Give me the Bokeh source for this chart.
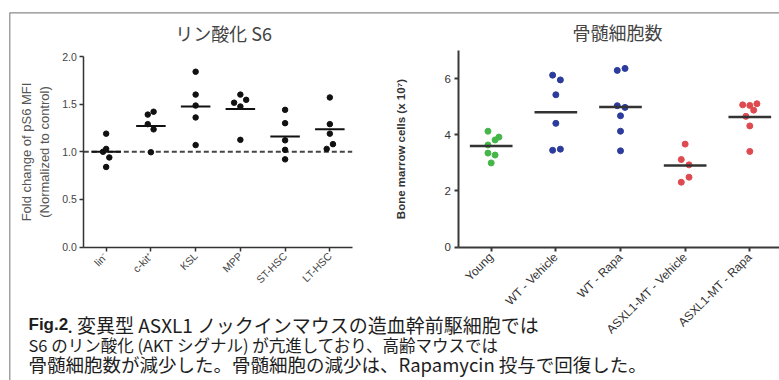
from math import pi
from bokeh.plotting import figure
from bokeh.models import Range1d, LinearAxis, FixedTicker, Label, NumeralTickFormatter
from bokeh.embed import file_html
from bokeh.resources import INLINE

# ---------------- data ----------------
s6_groups = ["lin⁻", "c-kit⁺", "KSL", "MPP", "ST-HSC", "LT-HSC"]
s6_values = [
    [1.19, 1.03, 1.00, 0.94, 0.84],
    [1.39, 1.42, 1.29, 1.235, 0.995],
    [1.84, 1.60, 1.485, 1.36, 1.07],
    [1.60, 1.515, 1.545, 1.475, 1.125],
    [1.44, 1.30, 1.12, 1.02, 0.92],
    [1.57, 1.29, 1.19, 1.08, 1.03],
]
s6_jitter = [
    [0, 0, -0.07, 0.07, 0],
    [-0.07, 0.06, -0.07, 0.06, 0],
    [0, 0, 0, 0, 0],
    [0, -0.14, 0.13, 0, 0],
    [0, 0, 0, 0, 0],
    [0, 0, 0, 0.07, -0.07],
]
s6_means = [1.00, 1.27, 1.475, 1.45, 1.16, 1.235]
s6_control = 1.0
s6_yticks = [0.0, 0.5, 1.0, 1.5, 2.0]

bm_groups = ["Young", "WT - Vehicle", "WT - Rapa", "ASXL1-MT - Vehicle", "ASXL1-MT - Rapa"]
bm_values = [
    [4.13, 3.92, 3.82, 3.64, 3.35, 3.28, 3.00],
    [6.13, 5.96, 5.43, 4.41, 3.45, 3.49],
    [6.30, 6.37, 5.04, 4.98, 4.68, 4.13, 3.43],
    [3.67, 3.12, 2.93, 2.49, 2.31],
    [5.07, 5.05, 5.11, 4.88, 4.66, 4.32, 3.41],
]
bm_jitter = [
    [-0.05, 0.12, 0.06, -0.05, -0.05, 0.06, 0.0],
    [-0.05, 0.07, 0, 0, -0.05, 0.07],
    [-0.05, 0.07, -0.05, 0.07, 0, 0, 0],
    [0, -0.06, 0.06, 0.06, -0.06],
    [-0.11, 0, 0.11, 0.06, -0.06, 0, 0],
]
bm_means = [3.60, 4.81, 4.99, 2.91, 4.64]
bm_colors = ["#45b649", "#2b3c9c", "#2b3c9c", "#de4a4f", "#de4a4f"]
bm_yticks = [0, 2, 4, 6]

# ---------------- layout helpers ----------------
W, H = 779, 380


def lin_range(p0, v0, p1, v1, total):
    s = (p1 - p0) / (v1 - v0)
    return Range1d(start=v0 - p0 / s, end=v0 + (total - p0) / s)


p = figure(width=W, height=H, x_range=Range1d(0, W), y_range=Range1d(0, H),
           x_axis_location=None, y_axis_location=None, toolbar_location=None,
           output_backend="svg", min_border=0, outline_line_color=None,
           background_fill_color="white", border_fill_color="white")
p.grid.visible = False

p.extra_x_ranges = {
    "lx": lin_range(83.3, -0.5, 351.7, 5.5, W),
    "rx": lin_range(490.7, 0, 749.3, 4, W),
}
p.extra_y_ranges = {
    "ly": lin_range(133.5, 0, 324.0, 2.0, H),
    "ry": lin_range(133.5, 0, 301.7, 6, H),
}

SANS = "Liberation Sans"
JP = "Noto Sans CJK JP"

# ---------------- left panel ----------------
ly_ax = LinearAxis(x_range_name="lx", y_range_name="ly", fixed_location=-0.5, bounds=(0, 2),
                   ticker=FixedTicker(ticks=s6_yticks, minor_ticks=[]),
                   formatter=NumeralTickFormatter(format="0.0"),
                   axis_label="Fold change of pS6 MFI\n(Normalized to control)")
lx_ax = LinearAxis(x_range_name="lx", y_range_name="ly", fixed_location=0, bounds=(-0.5, 5.5),
                   ticker=FixedTicker(ticks=list(range(len(s6_groups))), minor_ticks=[]),
                   major_label_overrides={i: g for i, g in enumerate(s6_groups)},
                   major_label_orientation=pi / 4)
for ax in (ly_ax, lx_ax):
    ax.axis_line_color = "#333333"
    ax.axis_line_width = 1.5
    ax.major_tick_line_color = "#333333"
    ax.major_tick_line_width = 1.5
    ax.major_tick_in = 0
    ax.major_tick_out = 4
    ax.minor_tick_line_color = None
    ax.major_label_text_font = SANS
    ax.major_label_text_color = "#444444"
    ax.major_label_standoff = 3
ly_ax.major_label_text_font_size = "10.5px"
lx_ax.major_label_text_font_size = "10.5px"
ly_ax.axis_label_text_font = SANS
ly_ax.axis_label_text_font_size = "13px"
ly_ax.axis_label_text_font_style = "normal"
ly_ax.axis_label_text_color = "#555555"
ly_ax.axis_label_standoff = 7
p.add_layout(ly_ax, "left")
p.add_layout(lx_ax, "below")

p.segment(x0=[-0.5], x1=[len(s6_groups) - 0.5], y0=[s6_control], y1=[s6_control],
          x_range_name="lx", y_range_name="ly", line_color="#444444", line_width=2,
          line_dash="5 3")

for i, (vals, jit, m) in enumerate(zip(s6_values, s6_jitter, s6_means)):
    p.scatter(x=[i + j for j in jit], y=vals, x_range_name="lx", y_range_name="ly",
              size=5.5, fill_color="#111111", line_color="#111111")
    p.segment(x0=[i - 0.33], x1=[i + 0.33], y0=[m], y1=[m], x_range_name="lx",
              y_range_name="ly", line_color="#111111", line_width=2)

# ---------------- right panel ----------------
ry_ax = LinearAxis(x_range_name="rx", y_range_name="ry", fixed_location=-0.5, bounds=(0, 7),
                   ticker=FixedTicker(ticks=bm_yticks, minor_ticks=[]),
                   axis_label="Bone marrow cells (x 10⁷)")
rx_ax = LinearAxis(x_range_name="rx", y_range_name="ry", fixed_location=0, bounds=(-0.5, 4.6),
                   ticker=FixedTicker(ticks=list(range(len(bm_groups))), minor_ticks=[]),
                   major_label_overrides={i: g for i, g in enumerate(bm_groups)},
                   major_label_orientation=pi / 4)
for ax in (ry_ax, rx_ax):
    ax.axis_line_color = "#3a3a3a"
    ax.axis_line_width = 2
    ax.major_tick_line_color = "#3a3a3a"
    ax.major_tick_line_width = 2
    ax.major_tick_in = 0
    ax.major_tick_out = 4
    ax.minor_tick_line_color = None
    ax.major_label_text_font = SANS
    ax.major_label_text_color = "#333333"
    ax.major_label_standoff = 4
ry_ax.major_label_text_font_size = "11.5px"
rx_ax.major_label_text_font_size = "12px"
ry_ax.axis_label_text_font = SANS
ry_ax.axis_label_text_font_size = "11.5px"
ry_ax.axis_label_text_font_style = "bold"
ry_ax.axis_label_text_color = "#333333"
ry_ax.axis_label_standoff = 34
p.add_layout(ry_ax, "left")
p.add_layout(rx_ax, "below")

for i, (vals, jit, m, c) in enumerate(zip(bm_values, bm_jitter, bm_means, bm_colors)):
    p.scatter(x=[i + j for j in jit], y=vals, x_range_name="rx", y_range_name="ry",
              size=6, fill_color=c, line_color=c)
    p.segment(x0=[i - 0.33], x1=[i + 0.33], y0=[m], y1=[m], x_range_name="rx",
              y_range_name="ry", line_color="#333333", line_width=2.5)

# ---------------- frame, titles, caption ----------------
p.line(x=[9.3, 9.3, W], y=[0, H - 12.3, H - 12.3], line_color="#8a8a8a", line_width=1.2)

p.add_layout(Label(x=223, y=H - 32, text="リン酸化 S6", text_align="center",
                   text_baseline="middle", text_font=JP, text_font_size="18px",
                   text_color="#444444"))
p.add_layout(Label(x=617, y=H - 31.5, text="骨髄細胞数", text_align="center",
                   text_baseline="middle", text_font=JP, text_font_size="18px",
                   text_color="#444444"))

cap_color = "#1e1e1e"
p.add_layout(Label(x=28, y=H - 324, text="Fig.2", text_font=SANS, text_font_style="bold",
                   text_font_size="17px", text_color=cap_color, text_baseline="middle"))
p.add_layout(Label(x=67, y=H - 324, text=". 変異型 ASXL1 ノックインマウスの造血幹前駆細胞では",
                   text_font=JP, text_font_size="19px", text_color=cap_color,
                   text_baseline="middle"))
p.add_layout(Label(x=28, y=H - 344, text="S6 のリン酸化 (AKT シグナル) が亢進しており、高齢マウスでは",
                   text_font=JP, text_font_size="16.5px", text_color=cap_color,
                   text_baseline="middle"))
p.add_layout(Label(x=28, y=H - 363.5, text="骨髄細胞数が減少した。骨髄細胞の減少は、Rapamycin 投与で回復した。",
                   text_font=JP, text_font_size="18.5px", text_color=cap_color,
                   text_baseline="middle"))

open("out.html", "w").write(file_html(p, INLINE))
